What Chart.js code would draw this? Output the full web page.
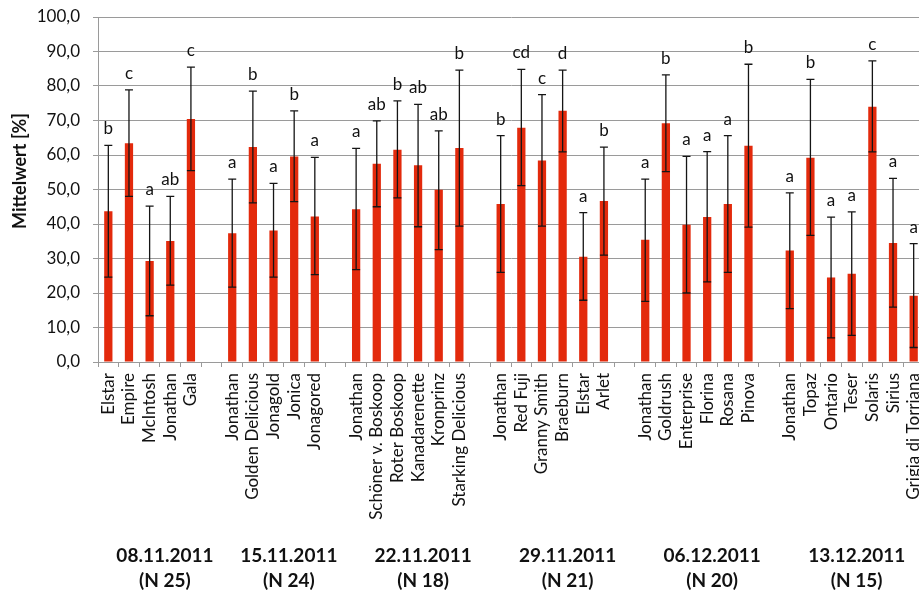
<!DOCTYPE html>
<html lang="de">
<head>
<meta charset="UTF-8" />
<title>Mittelwert je Sorte</title>
<script src="https://cdn.jsdelivr.net/npm/chart.js"></script>
<style>
  html, body { margin: 0; padding: 0; background: #fff; overflow: hidden; }
  #wrap { width: 919px; height: 591px; overflow: hidden; }
</style>
</head>
<body>
<div id="wrap"><canvas id="chart" width="926" height="591"></canvas></div>
<script>
// Sorten je Termin, leere Einträge = Abstand zwischen den Terminen
const sorten = [
  "Elstar", "Empire", "McIntosh", "Jonathan", "Gala", "",
  "Jonathan", "Golden Delicious", "Jonagold", "Jonica", "Jonagored", "",
  "Jonathan", "Schöner v. Boskoop", "Roter Boskoop", "Kanadarenette", "Kronprinz", "Starking Delicious", "",
  "Jonathan", "Red Fuji", "Granny Smith", "Braeburn", "Elstar", "Arlet", "",
  "Jonathan", "Goldrush", "Enterprise", "Florina", "Rosana", "Pinova", "",
  "Jonathan", "Topaz", "Ontario", "Teser", "Solaris", "Sirius", "Grigia di Torriana"
];
const mittelwert = [
  43.7, 63.4, 29.3, 35.1, 70.4, null,
  37.3, 62.3, 38.1, 59.6, 42.2, null,
  44.3, 57.5, 61.5, 57.0, 49.9, 62.0, null,
  45.8, 67.9, 58.4, 72.8, 30.5, 46.7, null,
  35.4, 69.2, 39.8, 42.0, 45.8, 62.7, null,
  32.3, 59.2, 24.5, 25.6, 74.0, 34.5, 19.2
];
const fehlerOben = [
  62.8, 78.9, 45.2, 48.0, 85.5, null,
  53.0, 78.5, 51.8, 72.8, 59.3, null,
  61.9, 69.9, 75.7, 74.7, 67.0, 84.6, null,
  65.6, 84.8, 77.5, 84.6, 43.3, 62.3, null,
  53.0, 83.2, 59.6, 61.0, 65.6, 86.3, null,
  49.0, 81.9, 42.0, 43.5, 87.3, 53.2, 34.3
];
const fehlerUnten = [
  24.6, 48.0, 13.4, 22.3, 55.5, null,
  21.7, 46.1, 24.6, 46.5, 25.3, null,
  26.8, 45.0, 47.6, 39.2, 32.6, 39.4, null,
  26.0, 51.1, 39.4, 60.9, 17.9, 31.0, null,
  17.6, 55.2, 20.0, 23.2, 26.0, 39.1, null,
  15.5, 36.7, 7.0, 7.7, 60.9, 15.9, 4.2
];
const buchstaben = [
  "b", "c", "a", "ab", "c", "",
  "a", "b", "a", "b", "a", "",
  "a", "ab", "b", "ab", "ab", "b", "",
  "b", "cd", "c", "d", "a", "b", "",
  "a", "b", "a", "a", "a", "b", "",
  "a", "b", "a", "a", "c", "a", "a"
];
const termine = ["08.11.2011", "15.11.2011", "22.11.2011", "29.11.2011", "06.12.2011", "13.12.2011"];
const stichprobe = ["(N 25)", "(N 24)", "(N 18)", "(N 21)", "(N 20)", "(N 15)"];
const gruppenGroesse = [6, 6, 7, 7, 7, 7];

const schrift = "Lato, 'Open Sans', sans-serif";
const grau = "#9a9a9a";

const zusatz = {
  id: "zusatz",
  afterDatasetsDraw(chart) {
    const { ctx, scales: { x, y } } = chart;
    ctx.save();
    // Fehlerbalken + Buchstaben
    ctx.strokeStyle = "#151515";
    ctx.lineWidth = 1.3;
    ctx.fillStyle = "#111";
    ctx.font = "17px " + schrift;
    ctx.textAlign = "center";
    ctx.textBaseline = "alphabetic";
    mittelwert.forEach((v, i) => {
      if (v === null) return;
      const px = x.getPixelForValue(i);
      const oben = y.getPixelForValue(fehlerOben[i]);
      const unten = y.getPixelForValue(fehlerUnten[i]);
      ctx.beginPath();
      ctx.moveTo(px, oben); ctx.lineTo(px, unten);
      ctx.moveTo(px - 4, oben); ctx.lineTo(px + 4, oben);
      ctx.moveTo(px - 4, unten); ctx.lineTo(px + 4, unten);
      ctx.stroke();
      ctx.fillText(buchstaben[i], px, oben - 11);
    });

    // Termine unter den Gruppen
    const breite = x.getPixelForValue(1) - x.getPixelForValue(0);
    ctx.font = "bold 19px " + schrift;
    ctx.textBaseline = "middle";
    let start = 0;
    termine.forEach((t, g) => {
      const links = x.getPixelForValue(start) - breite / 2;
      const rechts = x.getPixelForValue(start + gruppenGroesse[g] - 1) + breite / 2;
      const mitte = (links + rechts) / 2 + 5;
      ctx.fillText(t, mitte, 556);
      ctx.fillText(stichprobe[g], mitte, 581);
      start += gruppenGroesse[g];
    });

    // Achsentitel
    ctx.translate(20, 171);
    ctx.rotate(-Math.PI / 2);
    ctx.font = "bold 18px " + schrift;
    ctx.fillText("Mittelwert [%]", 0, 0);
    ctx.restore();
  }
};

new Chart(document.getElementById("chart"), {
  type: "bar",
  data: {
    labels: sorten,
    datasets: [{
      data: mittelwert,
      backgroundColor: "#e32a0c",
      barPercentage: 0.4,
      categoryPercentage: 1.0
    }]
  },
  options: {
    responsive: false,
    animation: false,
    layout: { padding: { top: 17, right: 2, left: 0, bottom: 0 } },
    plugins: { legend: { display: false }, tooltip: { enabled: false } },
    scales: {
      x: {
        grid: { drawOnChartArea: false, drawTicks: true, tickLength: 5, color: grau, offset: true },
        border: { color: grau },
        ticks: {
          autoSkip: false, maxRotation: 90, minRotation: 90, padding: 6,
          color: "#111", font: { family: schrift, size: 17 }
        },
        afterFit(s) { s.height = 229; s.paddingLeft = 0; s.paddingRight = 0; }
      },
      y: {
        min: 0, max: 100,
        grid: { color: grau, tickLength: 5 },
        border: { color: grau },
        ticks: {
          stepSize: 10, padding: 13, color: "#111",
          font: { family: schrift, size: 17 },
          callback: (v) => v.toFixed(1).replace(".", ",")
        },
        afterFit(s) { s.width = 98; s.paddingTop = 0; s.paddingBottom = 0; }
      }
    }
  },
  plugins: [zusatz]
});
</script>
</body>
</html>
